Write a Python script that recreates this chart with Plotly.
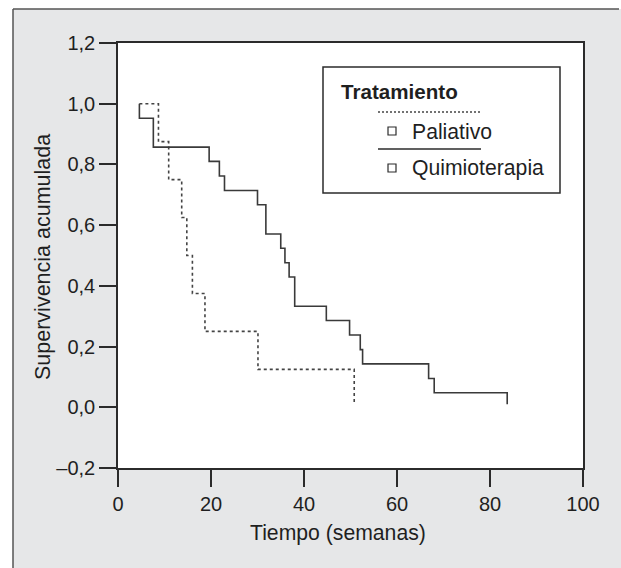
import plotly.graph_objects as go

# ---- data ----
paliativo_start = 4.6
paliativo_times = [8.7, 10.9, 13.7, 14.8, 16.0, 18.7, 30.1]
paliativo_surv = [0.875, 0.75, 0.625, 0.5, 0.375, 0.25, 0.125]
paliativo_end = 50.8

quimio_start = 4.6
quimio_times = [4.6, 7.6, 19.6, 21.8, 22.9, 30.0, 31.8, 35.0, 35.9, 36.8,
                38.0, 44.8, 49.8, 52.1, 52.6, 66.8, 68.0]
quimio_surv = [0.952, 0.857, 0.810, 0.762, 0.714, 0.667, 0.571, 0.524, 0.476,
               0.429, 0.333, 0.286, 0.238, 0.190, 0.143, 0.095, 0.048]
quimio_end = 83.7
censor_floor = 0.01

y_tickvals = [-0.2, 0.0, 0.2, 0.4, 0.6, 0.8, 1.0, 1.2]
y_ticktext = ["\u20130,2", "0,0", "0,2", "0,4", "0,6", "0,8", "1,0", "1,2"]
x_tickvals = [0, 20, 40, 60, 80, 100]
x_ticktext = ["0", "20", "40", "60", "80", "100"]

legend_title = "Tratamiento"
series_names = ["Paliativo", "Quimioterapia"]
x_title = "Tiempo (semanas)"
y_title = "Supervivencia acumulada"

# ---- layout geometry ----
W, H = 621, 568
ML, MR, MT, MB = 118, 38, 43, 100
PW, PH = W - ML - MR, H - MT - MB
FONT = "Liberation Sans, Arial, sans-serif"
INK = "#2b2b2b"
TXT = "#1f1f1f"
GREY = "#e6e7e8"


def px(x):
    return (x - ML) / PW


def py(y):
    return (MT + PH - y) / PH


def km(start, times, surv, end):
    xs = [start] + list(times) + [end, end]
    ys = [1.0] + list(surv) + [surv[-1], censor_floor]
    return xs, ys


fig = go.Figure()
xp, yp = km(paliativo_start, paliativo_times, paliativo_surv, paliativo_end)
fig.add_trace(go.Scatter(x=xp, y=yp, mode="lines", line_shape="hv",
                         line=dict(color="#444444", width=1.6, dash="3px,3px"),
                         name=series_names[0], showlegend=False))
xq, yq = km(quimio_start, quimio_times, quimio_surv, quimio_end)
fig.add_trace(go.Scatter(x=xq, y=yq, mode="lines", line_shape="hv",
                         line=dict(color="#3a3a3a", width=1.6),
                         name=series_names[1], showlegend=False))

shapes = [
    # grey panel
    dict(type="rect", xref="paper", yref="paper", x0=px(13), x1=px(W + 5),
         y0=py(9), y1=py(H + 5), fillcolor=GREY, line=dict(width=0), layer="below"),
    dict(type="line", xref="paper", yref="paper", x0=px(13), x1=px(13),
         y0=py(9), y1=py(H + 5), line=dict(color="#555555", width=1.5), layer="below"),
    dict(type="line", xref="paper", yref="paper", x0=px(13), x1=px(619),
         y0=py(9), y1=py(9), line=dict(color="#555555", width=1.5), layer="below"),
    # white plot area
    dict(type="rect", xref="paper", yref="paper", x0=0, x1=1, y0=0, y1=1,
         fillcolor="white", line=dict(width=0), layer="below"),
    # legend box
    dict(type="rect", xref="paper", yref="paper", x0=px(323), x1=px(560),
         y0=py(193), y1=py(67), fillcolor="white",
         line=dict(color=INK, width=1.5)),
    dict(type="line", xref="paper", yref="paper", x0=px(378), x1=px(481),
         y0=py(112), y1=py(112), line=dict(color="#444444", width=1.4, dash="2px,2px")),
    dict(type="line", xref="paper", yref="paper", x0=px(378), x1=px(481),
         y0=py(149), y1=py(149), line=dict(color=INK, width=1.5)),
    dict(type="rect", xref="paper", yref="paper", x0=px(388), x1=px(396),
         y0=py(135), y1=py(127), line=dict(color=INK, width=1.2)),
    dict(type="rect", xref="paper", yref="paper", x0=px(388), x1=px(396),
         y0=py(172), y1=py(164), line=dict(color=INK, width=1.2)),
]

annotations = [
    dict(text="<b>" + legend_title + "</b>", xref="paper", yref="paper",
         x=px(339), y=py(92), xanchor="left", yanchor="middle", showarrow=False,
         font=dict(family=FONT, size=20.6, color=TXT)),
    dict(text=series_names[0], xref="paper", yref="paper",
         x=px(410), y=py(131), xanchor="left", yanchor="middle", showarrow=False,
         font=dict(family=FONT, size=21.2, color=TXT)),
    dict(text=series_names[1], xref="paper", yref="paper",
         x=px(410), y=py(168), xanchor="left", yanchor="middle", showarrow=False,
         font=dict(family=FONT, size=21.2, color=TXT)),
    dict(text=x_title, xref="paper", yref="paper",
         x=px(337.5), y=py(533), xanchor="center", yanchor="middle", showarrow=False,
         font=dict(family=FONT, size=21.2, color=TXT)),
    dict(text=y_title, xref="paper", yref="paper", textangle=-90,
         x=px(43), y=py(257), xanchor="center", yanchor="middle", showarrow=False,
         font=dict(family=FONT, size=21.5, color=TXT)),
]

axis_common = dict(showgrid=False, zeroline=False, showline=True, mirror=True,
                   linecolor=INK, linewidth=1.5, ticks="outside", ticklen=17,
                   tickwidth=1.5, tickcolor=INK,
                   tickfont=dict(family=FONT, size=20, color=TXT))

fig.update_layout(
    width=W, height=H,
    margin=dict(l=ML, r=MR, t=MT, b=MB, pad=0),
    paper_bgcolor="white", plot_bgcolor="white",
    showlegend=False,
    shapes=shapes, annotations=annotations,
    xaxis=dict(range=[0, 100], tickvals=x_tickvals, ticktext=x_ticktext, **axis_common),
    yaxis=dict(range=[-0.2, 1.2], tickvals=y_tickvals, ticktext=y_ticktext, **axis_common),
)

fig.write_html("out.html", config={"displayModeBar": False},
               post_script="document.body.style.margin='0';document.body.style.overflow='hidden';")
